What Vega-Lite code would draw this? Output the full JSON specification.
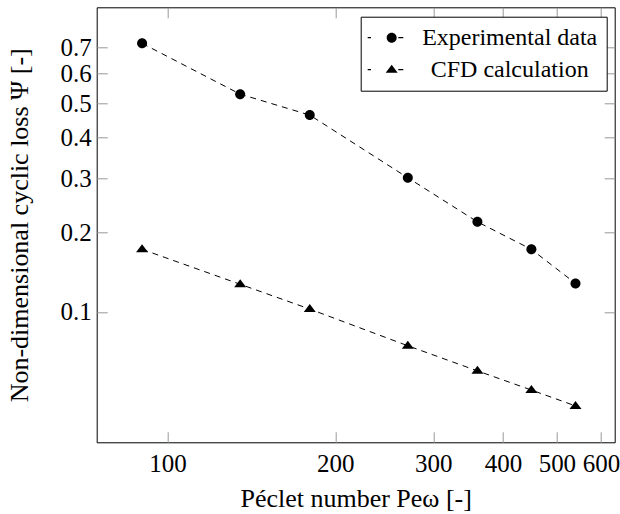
{
  "$schema": "https://vega.github.io/schema/vega-lite/v6.json",
  "width": 518,
  "height": 435,
  "autosize": "none",
  "padding": {"left": 96.7, "top": 7.3, "right": 5, "bottom": 71.7},
  "background": "white",
  "config": {
    "view": {"stroke": "black", "strokeWidth": 1},
    "font": "Liberation Serif",
    "axis": {"grid": false, "domain": false, "labelFont": "Liberation Serif", "titleFont": "Liberation Serif", "labelColor": "black", "titleColor": "black", "titleFontWeight": "normal", "tickColor": "#999999", "tickWidth": 1, "tickSize": -10.5}
  },
  "data": {
    "values": [
      {"Pe": 90, "psi": 0.718, "series": "Experimental data"},
      {"Pe": 135, "psi": 0.529, "series": "Experimental data"},
      {"Pe": 180, "psi": 0.463, "series": "Experimental data"},
      {"Pe": 270, "psi": 0.302, "series": "Experimental data"},
      {"Pe": 360, "psi": 0.217, "series": "Experimental data"},
      {"Pe": 450, "psi": 0.174, "series": "Experimental data"},
      {"Pe": 540, "psi": 0.130, "series": "Experimental data"},
      {"Pe": 90, "psi": 0.174, "series": "CFD calculation"},
      {"Pe": 135, "psi": 0.129, "series": "CFD calculation"},
      {"Pe": 180, "psi": 0.1028, "series": "CFD calculation"},
      {"Pe": 270, "psi": 0.0716, "series": "CFD calculation"},
      {"Pe": 360, "psi": 0.0548, "series": "CFD calculation"},
      {"Pe": 450, "psi": 0.0441, "series": "CFD calculation"},
      {"Pe": 540, "psi": 0.0365, "series": "CFD calculation"}
    ]
  },
  "layer": [
    {
      "mark": {"type": "line", "color": "black", "strokeWidth": 1, "strokeDash": [6, 5]},
      "encoding": {
        "x": {"field": "Pe", "type": "quantitative",
          "scale": {"type": "log", "domain": [74.6, 635], "nice": false},
          "axis": {"orient": "bottom", "values": [100, 200, 300, 400, 500, 600], "format": "d", "labelFontSize": 25, "labelPadding": 20, "title": "Péclet number Peω [-]", "titleFontSize": 26, "titleBaseline": "alphabetic", "titleY": 64.4}},
        "y": {"field": "psi", "type": "quantitative",
          "scale": {"type": "pow", "exponent": 0.25, "domain": [0.0228, 0.8802], "nice": false, "zero": false},
          "axis": {"orient": "left", "values": [0.1, 0.2, 0.3, 0.4, 0.5, 0.6, 0.7], "format": ".1f", "labelFontSize": 25, "labelPadding": 16, "title": "Non-dimensional cyclic loss Ψ [-]", "titleFontSize": 26, "titleBaseline": "alphabetic", "titleX": -69.2}},
        "detail": {"field": "series"}
      }
    },
    {
      "mark": {"type": "point", "filled": true, "size": 100, "color": "black", "opacity": 1, "strokeWidth": 0},
      "encoding": {
        "x": {"field": "Pe", "type": "quantitative", "axis": null},
        "y": {"field": "psi", "type": "quantitative", "axis": null},
        "shape": {"field": "series", "type": "nominal",
          "scale": {"domain": ["Experimental data", "CFD calculation"], "range": ["M-1,0A1,1 0 1,0 1,0A1,1 0 1,0 -1,0Z", "M0,-1L1.2,0.6L-1.2,0.6Z"]},
          "legend": null}
      }
    },
    {
      "transform": [{"filter": "false"}],
      "mark": {"type": "point", "filled": true, "color": "black", "opacity": 1, "strokeWidth": 0},
      "encoding": {
        "x": {"field": "Pe", "type": "quantitative", "axis": {"orient": "top", "values": [100, 200, 300, 400, 500, 600], "labels": false, "title": null}},
        "y": {"field": "psi", "type": "quantitative", "axis": {"orient": "right", "values": [0.1, 0.2, 0.3, 0.4, 0.5, 0.6, 0.7], "labels": false, "title": null}},
        "shape": {"field": "series", "type": "nominal",
          "scale": {"domain": ["Experimental data", "CFD calculation"], "range": [
            "M-1.167,-0.05H-0.892V0.05H-1.167Z M1.383,-0.05H1.8V0.05H1.383Z M0.416,0A0.417,0.417 0 1,0 1.25,0A0.417,0.417 0 1,0 0.416,0Z",
            "M-1.167,-0.05H-0.892V0.05H-1.167Z M1.383,-0.05H1.8V0.05H1.383Z M0.833,-0.417L1.333,0.25L0.333,0.25Z"]},
          "legend": {"orient": "none", "legendX": 264, "legendY": 9.4, "title": null, "strokeColor": "black", "fillColor": "white", "padding": 9, "symbolSize": 576, "symbolFillColor": "black", "symbolStrokeWidth": 0, "symbolOpacity": 1, "labelFont": "Liberation Serif", "labelFontSize": 24, "labelColor": "black", "labelAlign": "center", "labelOffset": 116, "rowPadding": 8, "labelLimit": 400}}
      }
    }
  ],
  "resolve": {"scale": {"shape": "independent"}, "axis": {"x": "independent", "y": "independent"}}
}
